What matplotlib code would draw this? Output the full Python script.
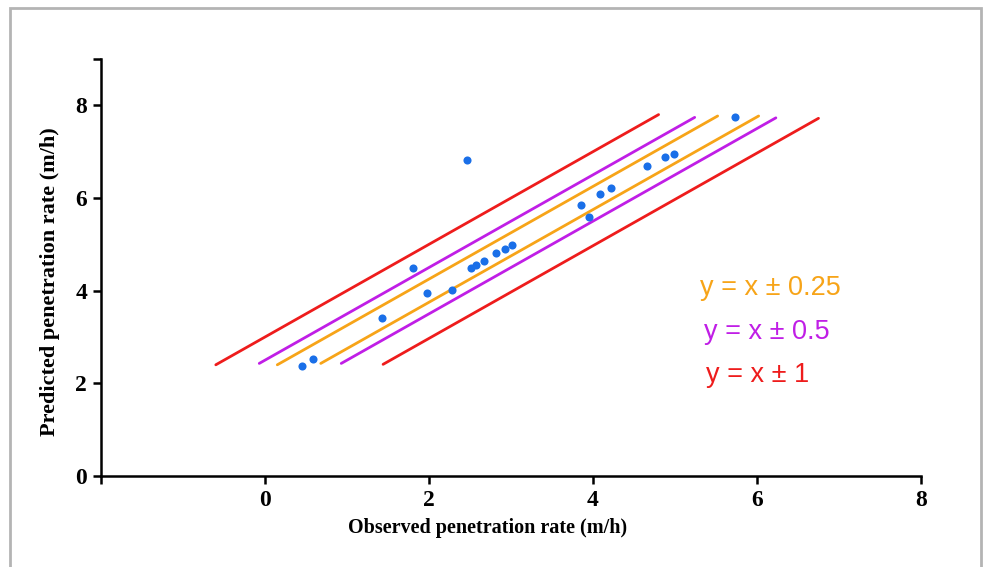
import matplotlib
matplotlib.use("Agg")
import matplotlib.pyplot as plt
from matplotlib.patches import Rectangle
import numpy as np

# Observed vs predicted penetration rate (m/h)
observed = [0.45, 0.585, 1.43, 1.80, 1.98, 2.28, 2.46, 2.51, 2.57, 2.67, 2.82, 2.93, 3.01,
            3.85, 3.95, 4.09, 4.22, 4.66, 4.88, 4.99, 5.73]
predicted = [2.37, 2.52, 3.41, 4.48, 3.94, 4.01, 6.81, 4.48, 4.55, 4.63, 4.81, 4.91, 4.98,
             5.84, 5.60, 6.08, 6.21, 6.68, 6.88, 6.96, 7.74]

# Reference band lines: y = x + offset, drawn over [x_start, x_end]
line_offsets = [3.0, 2.5, 2.25, 1.75, 1.5, 0.97]
line_x_start = [-0.6, -0.07, 0.15, 0.68, 0.93, 1.44]
line_x_end = [4.8, 5.24, 5.52, 6.02, 6.23, 6.75]
line_colors = ["#ee1c1c", "#c01ee6", "#f7a418", "#f7a418", "#c01ee6", "#ee1c1c"]

band_labels = ["y = x \u00b1 0.25", "y = x \u00b1 0.5", "y = x \u00b1 1"]
band_label_colors = ["#f7a418", "#c01ee6", "#ee1c1c"]
band_label_x = [5.3, 5.35, 5.38]
band_label_y = [4.05, 3.1, 2.18]

x_ticks = [-2, 0, 2, 4, 6, 8]
x_ticklabels = ["", "0", "2", "4", "6", "8"]
y_ticks = [0, 2, 4, 6, 8, 9]
y_ticklabels = ["0", "2", "4", "6", "8", ""]

fig = plt.figure(figsize=(9.84, 5.67), dpi=100)
ax = fig.add_axes([101/984, 1-476/567, 820/984, (476-59)/567])

for off, xs, xe, c in zip(line_offsets, line_x_start, line_x_end, line_colors):
    xx = np.array([xs, xe])
    ax.plot(xx, xx + off, color=c, lw=2.0, solid_capstyle="round", zorder=2)

ax.scatter(observed, predicted, s=34, color="#1a6fe8", zorder=3, linewidths=0)

for t, c, x, y in zip(band_labels, band_label_colors, band_label_x, band_label_y):
    ax.text(x, y, t, color=c, fontsize=19.5, family="Liberation Sans", va="center", ha="left")

ax.set_xlim(-2, 8)
ax.set_ylim(0, 9)
ax.set_xticks(x_ticks)
ax.set_xticklabels(x_ticklabels)
ax.set_yticks(y_ticks)
ax.set_yticklabels(y_ticklabels)

for s in ["top", "right"]:
    ax.spines[s].set_visible(False)
for s in ["left", "bottom"]:
    ax.spines[s].set_linewidth(1.8)
ax.tick_params(direction="out", length=6, width=1.8, pad=4)
for lab in ax.get_xticklabels() + ax.get_yticklabels():
    lab.set_fontfamily("Liberation Serif")
    lab.set_fontweight("bold")
    lab.set_fontsize(17)

ax.set_xlabel("Observed penetration rate (m/h)", family="Liberation Serif",
              fontweight="bold", fontsize=14.5)
ax.set_ylabel("Predicted penetration rate (m/h)", family="Liberation Serif",
              fontweight="bold", fontsize=16)
ax.xaxis.set_label_coords(0.472, -0.100)
ax.yaxis.set_label_coords(-0.050, 0.465)

fig.patches.append(Rectangle((10/984, -0.05), (981-10)/984, 1.05 - 8/567,
                             transform=fig.transFigure, fill=False,
                             edgecolor="#b4b4b4", lw=2, zorder=-1))

fig.savefig("out.png", dpi=100)
